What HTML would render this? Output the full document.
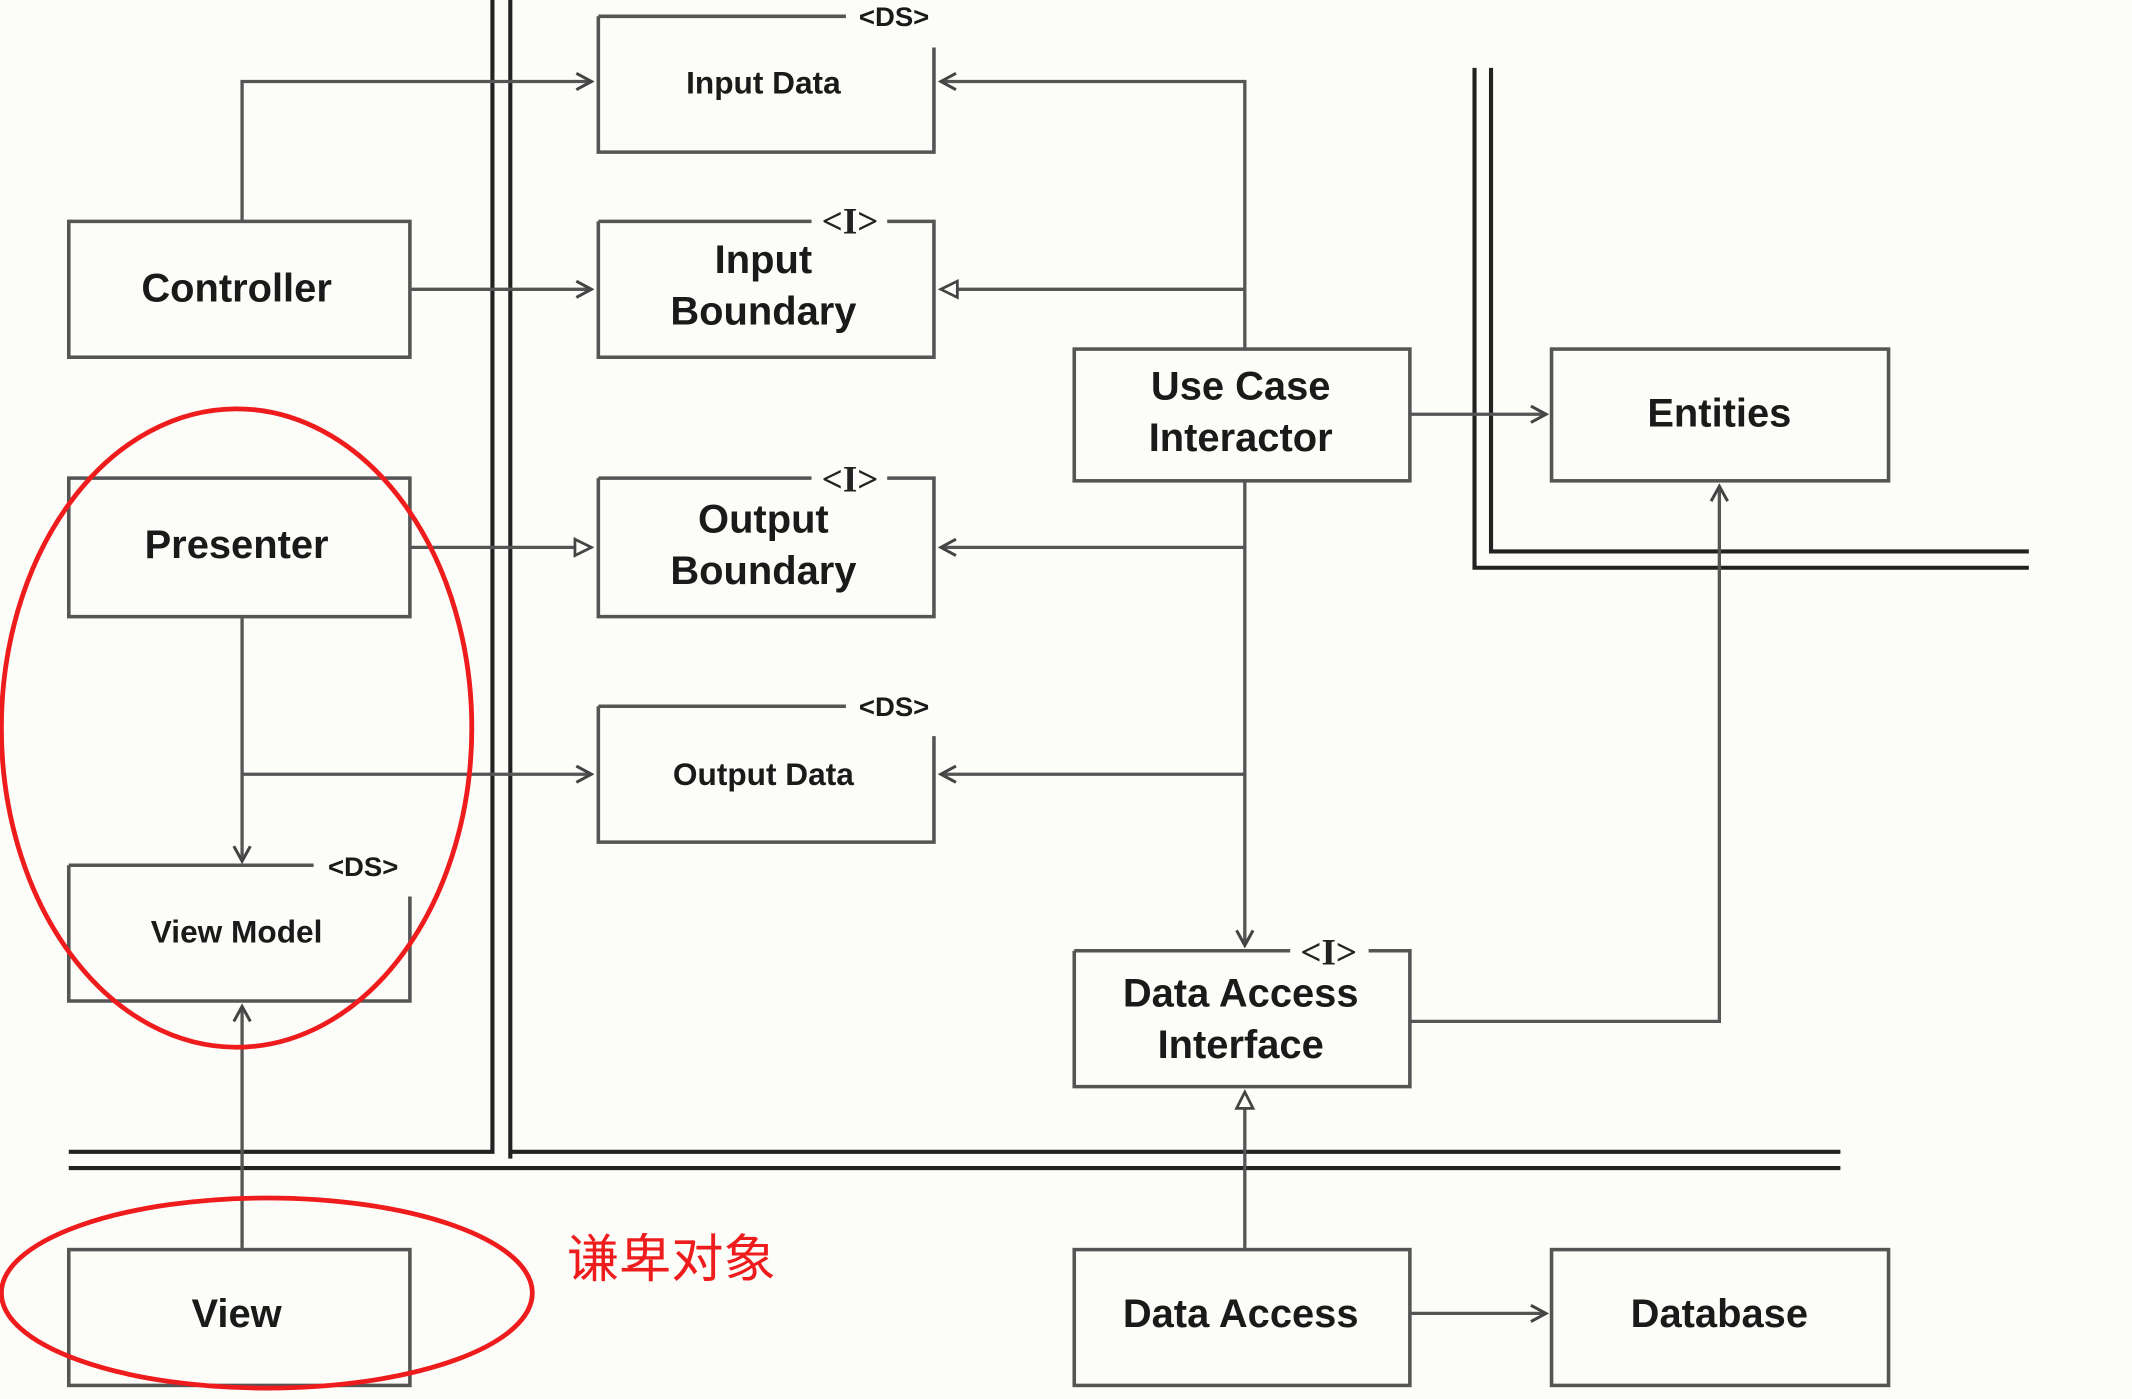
<!DOCTYPE html>
<html><head><meta charset="utf-8"><style>
html,body{margin:0;padding:0;background:#fcfcf9;}
svg{display:block}
text{font-family:"Liberation Sans","Noto Sans CJK SC",sans-serif;font-weight:bold;fill:#1a1a1a;text-anchor:middle}
text.i{font-family:"Liberation Serif",serif;font-weight:bold;fill:#222}
</style></head><body>
<svg width="2132" height="1399" viewBox="0 0 1550 1030" preserveAspectRatio="none" xmlns="http://www.w3.org/2000/svg">
<defs>
<marker id="a" markerWidth="14" markerHeight="14" refX="12" refY="7" orient="auto" markerUnits="userSpaceOnUse"><path d="M1,1 L12,7 L1,13" fill="none" stroke="#444" stroke-width="2.2"/></marker>
<marker id="t" markerWidth="16" markerHeight="16" refX="14" refY="8" orient="auto" markerUnits="userSpaceOnUse"><path d="M2,2 L14,8 L2,14 Z" fill="#fcfcf9" stroke="#444" stroke-width="2"/></marker>
</defs>
<rect width="1550" height="1030" fill="#fcfcf9"/>
<g stroke="#222" stroke-width="3" fill="none">
<path d="M358,0 V848 H50"/>
<path d="M371,0 V853"/>
<path d="M371,848 H1338"/>
<path d="M50,860 H1338"/>
<path d="M1072,50 V418 H1475"/>
<path d="M1084,50 V406 H1475"/>
</g>
<g stroke="#555" stroke-width="2.6" fill="none">
<path d="M435,12 H615 M679,35 V112 H435 V12"/>
<path d="M435,163 H590 M645,163 H679 V263 H435 V163"/>
<rect x="50" y="163" width="248" height="100"/>
<rect x="50" y="352" width="248" height="102"/>
<path d="M435,352 H590 M645,352 H679 V454 H435 V352"/>
<path d="M435,520 H615 M679,542 V620 H435 V520"/>
<path d="M50,637 H228 M298,660 V737 H50 V637"/>
<rect x="781" y="257" width="244" height="97"/>
<rect x="1128" y="257" width="245" height="97"/>
<path d="M781,700 H938 M995,700 H1025 V800 H781 V700"/>
<rect x="50" y="920" width="248" height="100"/>
<rect x="781" y="920" width="244" height="100"/>
<rect x="1128" y="920" width="245" height="100"/>
</g>
<g stroke="#555" stroke-width="2.4" fill="none">
<path d="M176,163 V60 H430" marker-end="url(#a)"/>
<path d="M298,213 H430" marker-end="url(#a)"/>
<path d="M905,257 V60 H684" marker-end="url(#a)"/>
<path d="M905,213 H684" marker-end="url(#t)"/>
<path d="M905,354 V696" marker-end="url(#a)"/>
<path d="M905,403 H684" marker-end="url(#a)"/>
<path d="M905,570 H684" marker-end="url(#a)"/>
<path d="M1025,305 H1124" marker-end="url(#a)"/>
<path d="M298,403 H430" marker-end="url(#t)"/>
<path d="M176,454 V634" marker-end="url(#a)"/>
<path d="M176,570 H430" marker-end="url(#a)"/>
<path d="M176,920 V741" marker-end="url(#a)"/>
<path d="M1025,752 H1250 V358" marker-end="url(#a)"/>
<path d="M905,920 V804" marker-end="url(#t)"/>
<path d="M1025,967 H1124" marker-end="url(#a)"/>
</g>
<g font-size="20">
<text x="650" y="19">&lt;DS&gt;</text>
<text x="650" y="527">&lt;DS&gt;</text>
<text x="264" y="645">&lt;DS&gt;</text>
</g>
<g font-size="27">
<text class="i" x="618" y="172">&lt;I&gt;</text>
<text class="i" x="618" y="362">&lt;I&gt;</text>
<text class="i" x="966" y="710">&lt;I&gt;</text>
</g>
<g font-size="23">
<text x="555" y="69">Input Data</text>
<text x="555" y="578">Output Data</text>
<text x="172" y="694">View Model</text>
</g>
<g font-size="29">
<text x="172" y="222">Controller</text>
<text x="172" y="411">Presenter</text>
<text x="555" y="201">Input</text>
<text x="555" y="239">Boundary</text>
<text x="555" y="392">Output</text>
<text x="555" y="430">Boundary</text>
<text x="902" y="294">Use Case</text>
<text x="902" y="332">Interactor</text>
<text x="1250" y="314">Entities</text>
<text x="902" y="741">Data Access</text>
<text x="902" y="779">Interface</text>
<text x="172" y="977">View</text>
<text x="902" y="977">Data Access</text>
<text x="1250" y="977">Database</text>
</g>
<g fill="none" stroke="#ee1c1c" stroke-width="3.5">
<ellipse cx="172" cy="536" rx="171" ry="235"/>
<ellipse cx="194" cy="952" rx="193" ry="70"/>
</g>
<text x="412" y="940" font-size="38" style="fill:#ee1c1c;font-weight:normal;text-anchor:start">谦卑对象</text>
</svg>
</body></html>
